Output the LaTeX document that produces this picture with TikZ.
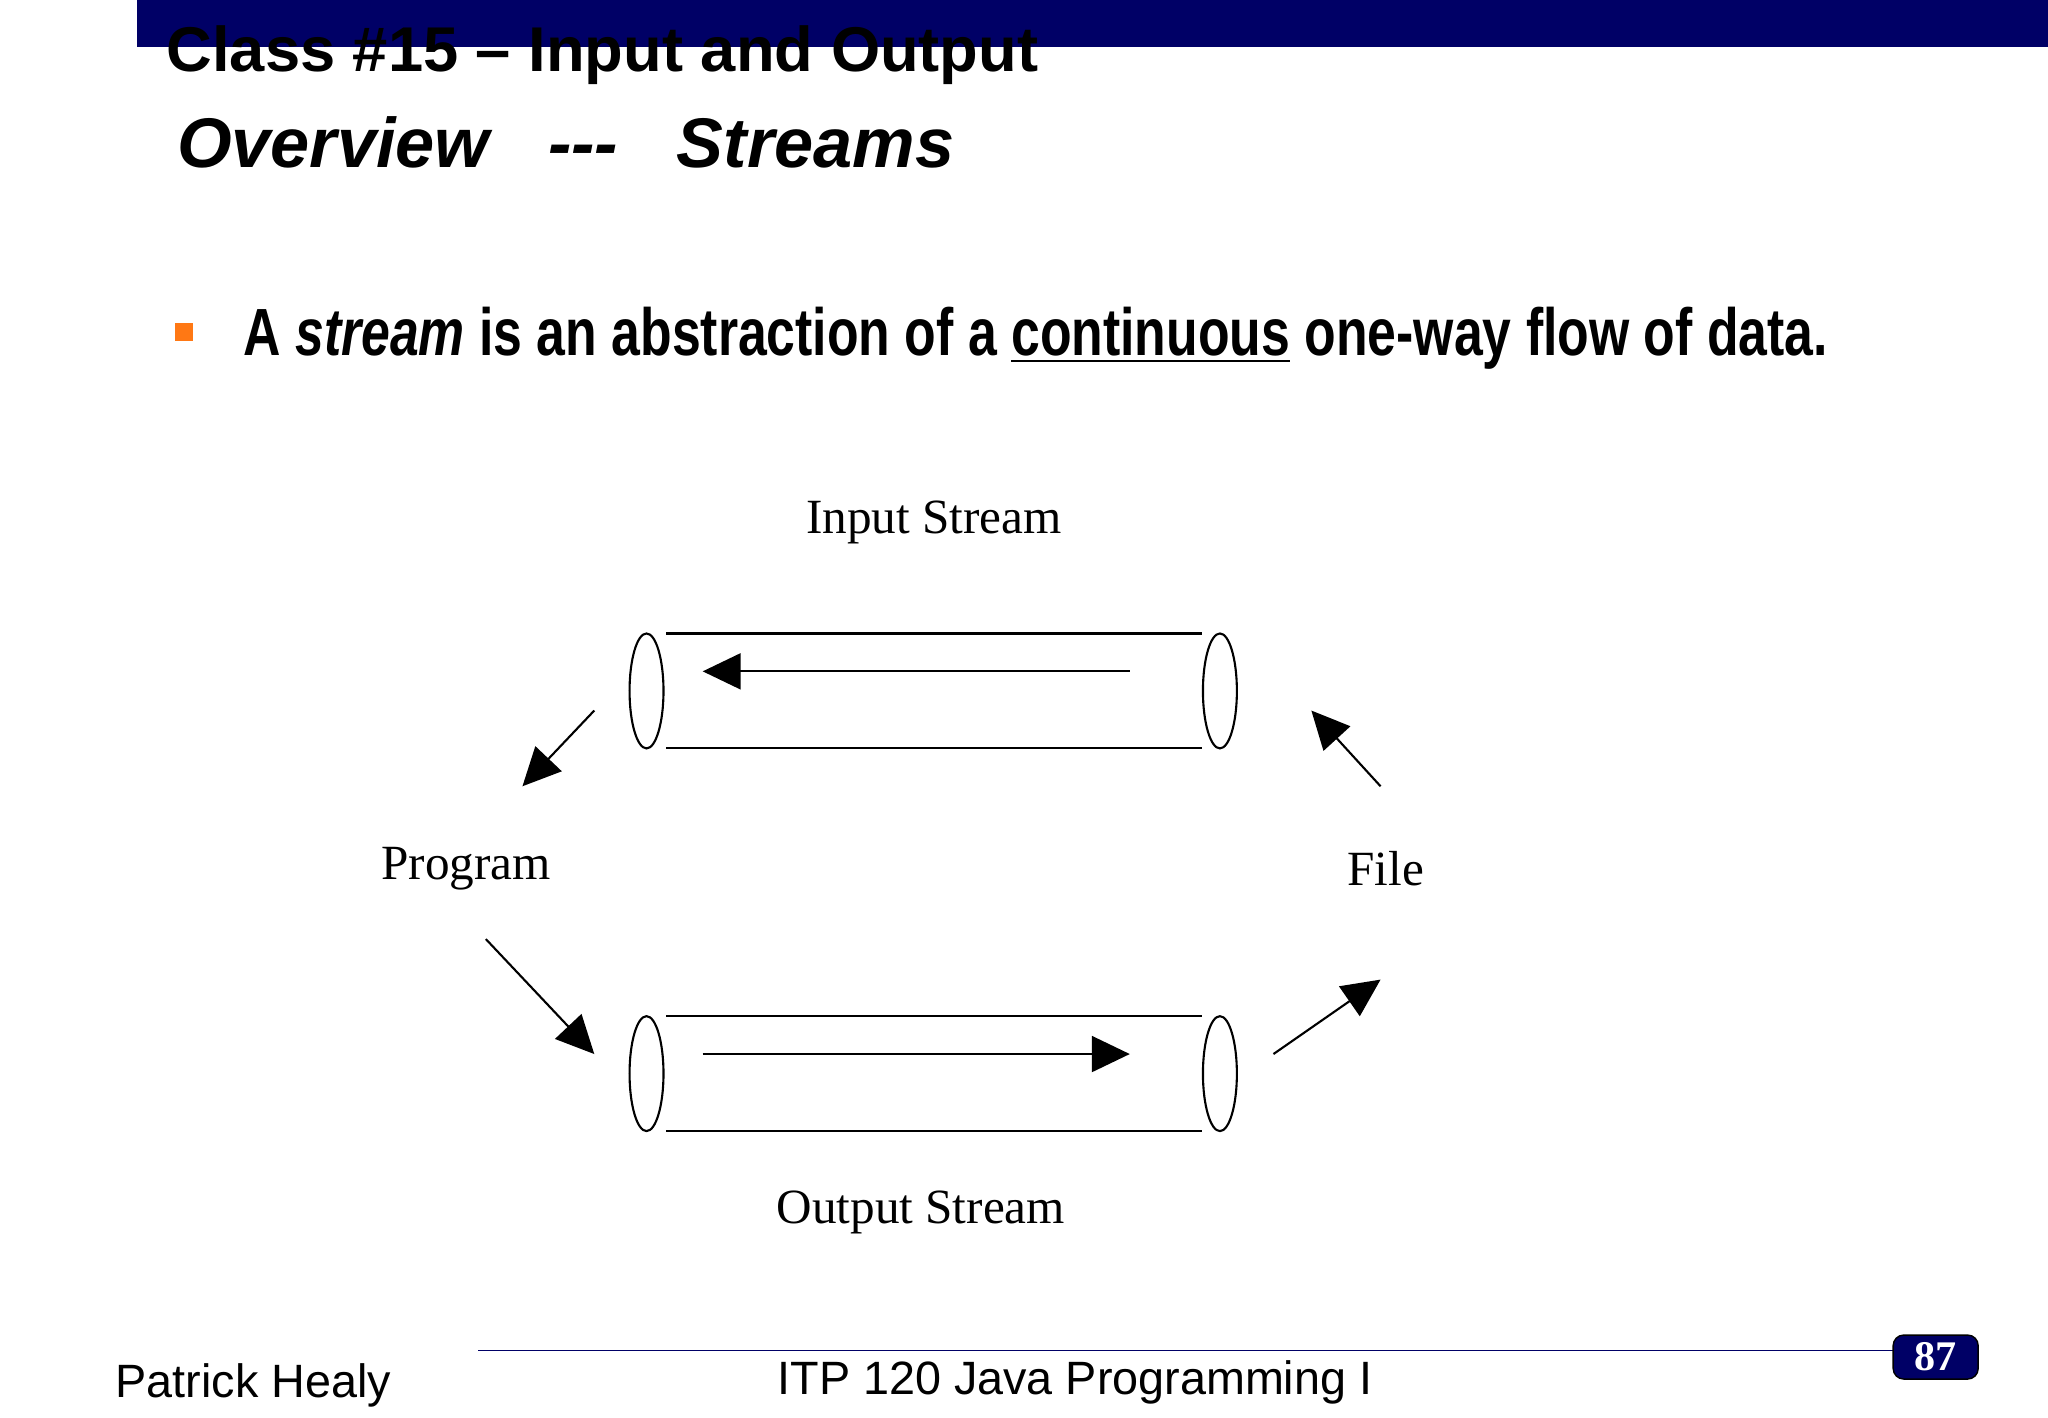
\documentclass[tikz,border=0pt]{standalone}
\usepackage{fontspec}
\setmainfont{Liberation Serif}
\setsansfont{Liberation Sans}
\usetikzlibrary{arrows.meta,positioning}
\definecolor{navy}{RGB}{0,0,102}
\definecolor{bulletorange}{RGB}{255,120,20}

\begin{document}
\begin{tikzpicture}[x=0.01306cm,y=-0.01306cm,>={Triangle[length=0.38cm,width=0.36cm]},
every node/.style = {inner sep=0pt},
lbl/.style = {font=\fontsize{14}{17}\selectfont\rmfamily},
foot/.style = {font=\fontsize{13.3}{16}\selectfont\sffamily},
flow/.style = {->,semithick,black},
pipe/.style = {semithick,black}]
\useasboundingbox (0,0) rectangle (1568,1085);
\fill [navy] (105,0) rectangle (1568,36);
\node [anchor=base west,font=\fontsize{18}{22}\selectfont\sffamily\bfseries] (title) at (127,55) {Class \#15 -- Input and Output};
\node [anchor=base west,font=\fontsize{20}{24}\selectfont\sffamily\bfseries\itshape] (sub) at (135,128) {Overview\ \ \ {-}{-}{-}\ \ \ Streams};
\fill [bulletorange] (134,247) rectangle (148,261);
\node [anchor=base west,xscale=0.775,font=\fontsize{19}{22}\selectfont\sffamily\bfseries] (bullet) at (186,272)
	{A \textit{stream} is an abstraction of a \underline{continuous} one-way flow of data.};

% labels
\node [lbl] (instream) at (715,400) {Input Stream};
\node [lbl] (outstream) at (705,928) {Output Stream};
\node [lbl] (prog) at (357,665) {Program};
\node [lbl] (file) at (1061,665) {File};

% tubes
\foreach \y/\n in {529/in,822/out} {
	\draw [pipe] (495,\y) ellipse [x radius=13,y radius=44];
	\draw [pipe] (934,\y) ellipse [x radius=13,y radius=44];
	\draw [pipe] (510,\y-44) -- (920,\y-44);
	\draw [pipe] (510,\y+44) -- (920,\y+44);
}
\coordinate (ina) at (865,514);
\coordinate (inb) at (538,514);
\coordinate (outa) at (538,807);
\coordinate (outb) at (865,807);
\draw [flow] (ina) -- (inb);
\draw [flow] (outa) -- (outb);

% connectors
\coordinate (p1) at (455,544); \coordinate (p2) at (400,602);
\coordinate (f1) at (1057,602); \coordinate (f2) at (1004,544);
\coordinate (p3) at (372,719); \coordinate (p4) at (455,807);
\coordinate (f3) at (975,807); \coordinate (f4) at (1057,750);
\draw [flow] (p1) -- (p2);
\draw [flow] (f1) -- (f2);
\draw [flow] (p3) -- (p4);
\draw [flow] (f3) -- (f4);

% footer
\draw [navy] (366,1034) -- (1450,1034);
\node [foot,anchor=base west] (author) at (88,1070) {Patrick Healy};
\node [foot,anchor=base] (course) at (823,1068) {ITP 120 Java Programming I};
\node [draw=black,fill=navy,rounded corners=3pt,minimum width=0.85cm,minimum height=0.44cm,
	text=white,font=\fontsize{12}{14}\selectfont\rmfamily\bfseries] (page) at (1482,1039) {87};
\end{tikzpicture}
\end{document}
